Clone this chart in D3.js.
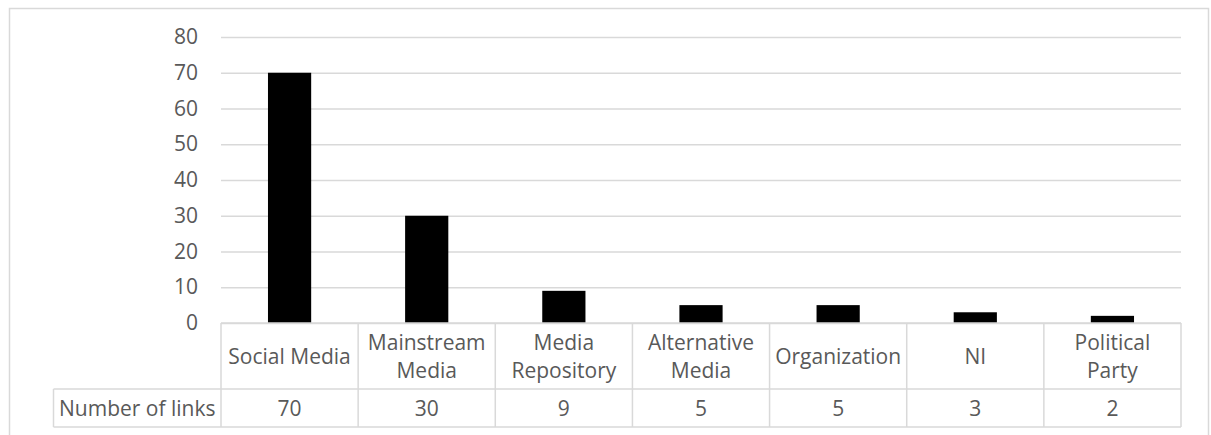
<!DOCTYPE html>
<html>
<head>
<meta charset="utf-8">
<script src="https://cdn.jsdelivr.net/npm/d3@7"></script>
<style>
  html, body { margin: 0; padding: 0; background: #fff; }
  svg { display: block; }
  text { font-family: "Open Sans", "Noto Sans", sans-serif; fill: #595959; }
</style>
</head>
<body>
<svg id="chart" width="1211" height="435"></svg>
<script>
// Link sources and how many links each one accounts for
const categories = [
  ["Social Media"],
  ["Mainstream", "Media"],
  ["Media", "Repository"],
  ["Alternative", "Media"],
  ["Organization"],
  ["NI"],
  ["Political", "Party"]
];
const seriesName = "Number of links";
const values = [70, 30, 9, 5, 5, 3, 2];
const yTicks = [0, 10, 20, 30, 40, 50, 60, 70, 80];

const svg = d3.select("#chart");
const fontSize = 21;
const gridColor = "#d9d9d9";

// Chart frame
svg.append("rect")
  .attr("x", 9.5).attr("y", 8.5)
  .attr("width", 1199).attr("height", 440)
  .attr("fill", "none").attr("stroke", gridColor).attr("stroke-width", 1.5);

const plot = { left: 221, right: 1181, top: 37, bottom: 323 };
const keys = categories.map(c => c.join(" "));

const x = d3.scaleBand().domain(keys).range([plot.left, plot.right]).padding(0);
const y = d3.scaleLinear().domain([0, 80]).range([plot.bottom, plot.top]);

// Horizontal gridlines with the value axis labels
const yAxis = d3.axisLeft(y).tickValues(yTicks).tickSize(-(plot.right - plot.left)).tickPadding(23);
const gy = svg.append("g").attr("transform", `translate(${plot.left},0)`).call(yAxis);
gy.select(".domain").remove();
gy.selectAll(".tick line").attr("stroke", gridColor).attr("stroke-width", 1.5);
gy.selectAll(".tick text")
  .style("font-family", '"Open Sans", "Noto Sans", sans-serif')
  .style("font-size", fontSize + "px")
  .attr("fill", "#595959");

// Bars
const barW = x.step() * 0.315;
svg.append("g").selectAll("rect")
  .data(values)
  .join("rect")
  .attr("x", (d, i) => x(keys[i]) + (x.step() - barW) / 2)
  .attr("y", d => y(d))
  .attr("width", barW)
  .attr("height", d => y(0) - y(d))
  .attr("fill", "#000");

// Data table under the plot
const rowTop = plot.bottom, rowMid = 389, rowBottom = 427, labelLeft = 53.5;
const table = svg.append("g").attr("stroke", gridColor).attr("stroke-width", 1.5);
table.append("line").attr("x1", plot.left).attr("x2", plot.right).attr("y1", rowTop).attr("y2", rowTop);
table.append("line").attr("x1", labelLeft).attr("x2", plot.right).attr("y1", rowMid).attr("y2", rowMid);
table.append("line").attr("x1", labelLeft).attr("x2", plot.right).attr("y1", rowBottom).attr("y2", rowBottom);
table.append("line").attr("x1", labelLeft).attr("x2", labelLeft).attr("y1", rowMid).attr("y2", rowBottom);
table.selectAll("line.col")
  .data(keys.map(k => x(k)).concat([plot.right]))
  .join("line")
  .attr("class", "col")
  .attr("x1", d => d).attr("x2", d => d)
  .attr("y1", rowTop).attr("y2", rowBottom);

// Category names (header row)
const header = svg.append("g").selectAll("text")
  .data(categories)
  .join("text")
  .attr("text-anchor", "middle")
  .style("font-size", fontSize + "px")
  .attr("x", (d, i) => x(keys[i]) + x.step() / 2)
  .attr("y", (rowTop + rowMid) / 2);
header.each(function(lines) {
  const t = d3.select(this);
  const lh = 28;
  const start = -(lines.length - 1) * lh / 2;
  lines.forEach((ln, j) => {
    t.append("tspan")
      .attr("x", t.attr("x"))
      .attr("dy", j === 0 ? start : lh)
      .attr("dominant-baseline", "central")
      .text(ln);
  });
});

// Series row
svg.append("text")
  .attr("x", (labelLeft + plot.left) / 2)
  .attr("y", (rowMid + rowBottom) / 2)
  .attr("text-anchor", "middle")
  .attr("dominant-baseline", "central")
  .style("font-size", fontSize + "px")
  .text(seriesName);
svg.append("g").selectAll("text")
  .data(values)
  .join("text")
  .attr("x", (d, i) => x(keys[i]) + x.step() / 2)
  .attr("y", (rowMid + rowBottom) / 2)
  .attr("text-anchor", "middle")
  .attr("dominant-baseline", "central")
  .style("font-size", fontSize + "px")
  .text(d => d);
</script>
</body>
</html>
